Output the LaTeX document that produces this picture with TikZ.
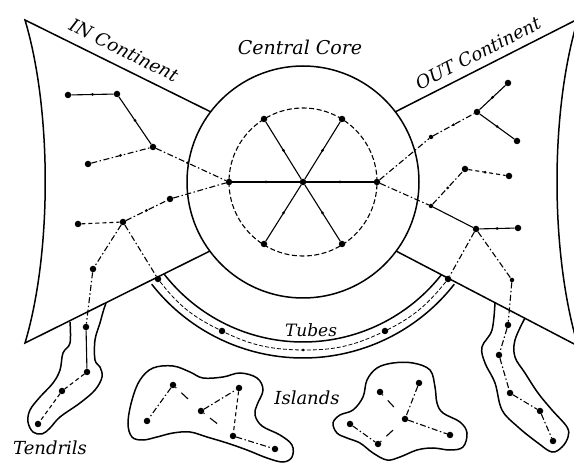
\documentclass[tikz,border=0pt]{standalone}
\usepackage{fontspec}
\setmainfont{DejaVu Serif}
\begin{document}
\begin{tikzpicture}[x=1pt,y=-1pt,
  big/.style={circle,fill,inner sep=0pt,minimum size=6.5pt},
  mid/.style={circle,fill,inner sep=0pt,minimum size=4.5pt},
  tick/.style={circle,fill,inner sep=0pt,minimum size=3pt},
  wire/.style={line width=1.1pt},
  dd/.style={wire,dash pattern=on 6pt off 2.5pt on 1.5pt off 2.5pt},
  ds/.style={wire,dash pattern=on 4pt off 3pt},
  sparse/.style={wire,dash pattern=on 1pt off 7pt on 9pt off 20pt},
  border/.style={line width=1.5pt},
  tubeline/.style={line width=0.8pt,dash pattern=on 4pt off 2pt},
  lab/.style={font=\fontsize{18}{20}\selectfont\itshape,inner sep=0pt}
]
\useasboundingbox (0,0) rectangle (574,465);

% continents
\draw[border] (211,112) -- (25,20) .. controls (52,110) and (52,253) .. (25,343) -- (210,251);
\draw[border] (395,112) -- (578,19) .. controls (550,110) and (550,253) .. (578,346) -- (396,251);

% core circles
\draw[border] (303,182) circle[radius=116pt];
\draw[wire,dash pattern=on 5pt off 2.5pt] (303,182) circle[radius=74pt];

% tubes
\draw[border] plot[domain=38:142,samples=80] ({303+176*cos(\x)},{166+176*sin(\x)});
\draw[border] plot[domain=38:142,samples=80] ({303+192*cos(\x)},{166+192*sin(\x)});

% tendril outlines
\draw[border] plot[smooth,tension=0.6] coordinates {(70,322) (70,343) (63,353) (60,370) (53,383) (40,397) (30,410) (28,422) (33,432) (42,434) (50,428) (60,417) (80,403) (95,390) (102,377) (100,367) (95,360) (95,340) (100,323) (103,312) (106,303)};
\draw[border] plot[smooth,tension=0.6] coordinates {(495,302) (492,330) (482,347) (485,363) (495,383) (502,410) (518,427) (538,443) (552,452) (562,447) (568,437) (567,427) (552,410) (538,393) (525,373) (515,357) (515,340) (525,318)};

% island outlines
\draw[border] plot[smooth cycle,tension=0.6] coordinates {(153,368) (173,366) (190,372) (203,378) (223,377) (240,373) (257,378) (263,390) (257,405) (255,415) (262,426) (280,435) (292,445) (292,457) (283,462) (267,458) (247,450) (227,443) (207,437) (190,432) (173,433) (157,437) (143,440) (132,437) (128,423) (132,400) (140,380)};
\draw[border] plot[smooth cycle,tension=0.6] coordinates {(333,423) (340,415) (353,410) (363,397) (367,380) (377,368) (393,363) (413,363) (430,370) (435,387) (437,403) (443,413) (460,422) (467,433) (463,447) (450,450) (433,448) (417,450) (400,457) (387,460) (373,453) (360,443) (347,438) (337,433)};

% nodes: IN continent
\node[big] (a1) at (68,95) {};
\node[big] (a2) at (117,94) {};
\node[big] (a3) at (153,147) {};
\node[big] (a4) at (88,164) {};
\node[big] (a5) at (78,224) {};
\node[big] (a6) at (123,222) {};
\node[big] (a7) at (170,199) {};
% core
\node[big] (c0) at (303,182) {};
\node[big] (cL) at (229,182) {};
\node[big] (cR) at (377,182) {};
\node[big] (cUL) at (264,119) {};
\node[big] (cUR) at (342,119) {};
\node[big] (cDL) at (264,244) {};
\node[big] (cDR) at (342,244) {};
% OUT continent
\node[mid] (b1) at (431,137) {};
\node[big] (b2) at (477,112) {};
\node[big] (b3) at (508,83) {};
\node[big] (b4) at (517,141) {};
\node[mid] (b5) at (431,206) {};
\node[big] (b6) at (465,169) {};
\node[big] (b7) at (509,176) {};
\node[big] (b8) at (476,229) {};
\node[big] (b9) at (518,228) {};
% tendrils
\node[big] (t1) at (93,269) {};
\node[big] (t2) at (86,327) {};
\node[big] (t3) at (87,372) {};
\node[big] (t4) at (62,391) {};
\node[big] (t5) at (38,424) {};
\node[mid] (r1) at (512,280) {};
\node[big] (r2) at (508,325) {};
\node[big] (r3) at (499,355) {};
\node[big] (r4) at (510,393) {};
\node[big] (r5) at (540,411) {};
\node[big] (r6) at (553,441) {};
% tubes
\node[big] (tl) at (158,279) {};
\node[big] (td1) at (222,331) {};
\node[tick] (td2) at (303,350) {};
\node[big] (td3) at (385,331) {};
\node[big] (tr) at (448,279) {};
% islands
\node[big] (i1) at (173,385) {};
\node[big] (i2) at (147,421) {};
\node[big] (i3) at (201,411) {};
\node[big] (i4) at (239,388) {};
\node[big] (i5) at (233,436) {};
\node[big] (i6) at (275,449) {};
\node[big] (j1) at (380,392) {};
\node[big] (j2) at (419,383) {};
\node[big] (j3) at (405,419) {};
\node[big] (j4) at (350,424) {};
\node[big] (j5) at (378,444) {};
\node[big] (j6) at (450,435) {};

% core spokes
\draw[wire] (cL) -- node[tick,pos=.5]{} (c0) -- node[tick,pos=.5]{} (cR);
\draw[wire] (cUL) -- node[tick,pos=.5]{} (c0) -- node[tick,pos=.5]{} (cDR);
\draw[wire] (cUR) -- node[tick,pos=.5]{} (c0) -- node[tick,pos=.5]{} (cDL);

% IN edges
\draw[wire] (a1) -- node[tick,pos=.5]{} (a2);
\draw[wire] (a2) -- node[tick,pos=.5]{} (a3);
\draw[dd] (a4) -- node[tick,pos=.5]{} (a3);
\draw[dd] (a3) -- node[tick,pos=.45]{} (cL);
\draw[ds] (a5) -- (a6);
\draw[dd] (a6) -- node[tick,pos=.5]{} (a7);
\draw[dd] (a7) -- (cL);
% OUT edges
\draw[dd] (cR) -- (b1);
\draw[dd] (b1) -- node[tick,pos=.5]{} (b2);
\draw[wire] (b2) -- node[tick,pos=.5]{} (b3);
\draw[wire] (b2) -- node[tick,pos=.5]{} (b4);
\draw[dd] (cR) -- (b5);
\draw[dd] (b5) -- node[tick,pos=.5]{} (b6);
\draw[ds] (b6) -- node[tick,pos=.45]{} (b7);
\draw[wire] (b5) -- (b8);
\draw[wire] (b8) -- node[tick,pos=.5]{} (b9);
% tendrils
\draw[dd] (a6) -- (t1);
\draw[dd] (t1) -- (t2);
\draw[wire] (t2) -- (t3);
\draw[ds] (t3) -- (t4);
\draw[ds] (t4) -- (t5);
\draw[dd] (b8) -- (r1);
\draw[dd] (r1) -- (r2);
\draw[dd] (r2) -- (r3);
\draw[dd] (r3) -- (r4);
\draw[dd] (r4) -- (r5);
\draw[dd] (r5) -- (r6);
% tubes
\draw[dd] (a6) -- (tl);
\draw[dd] (b8) -- (tr);
\draw[tubeline] (tl) to[bend right=13] (td1) to[bend right=13] (td2) to[bend right=13] (td3) to[bend right=13] (tr);
% islands
\draw[dd] (i1) -- (i2);
\draw[sparse] (i1) -- (i3);
\draw[dd] (i3) -- (i4);
\draw[ds] (i4) -- (i5);
\draw[sparse] (i3) -- (i5);
\draw[dd] (i5) -- (i6);
\draw[dd] (j2) -- (j3);
\draw[sparse] (j1) -- (j3);
\draw[dd] (j3) -- (j6);
\draw[dd] (j4) -- (j5);
\draw[sparse] (j5) -- (j3);

% labels
\node[lab,font=\fontsize{19}{21}\selectfont\itshape] (lcore) at (300,47) {Central Core};
\node[lab,rotate=-26.5] (lin) at (124,50) {IN Continent};
\node[lab,rotate=27] (lout) at (478,53) {OUT Continent};
\node[lab,font=\fontsize{17}{19}\selectfont\itshape] (ltube) at (311,330) {Tubes};
\node[lab] (lisl) at (307,398) {Islands};
\node[lab] (ltend) at (50,448) {Tendrils};
\end{tikzpicture}
\end{document}
